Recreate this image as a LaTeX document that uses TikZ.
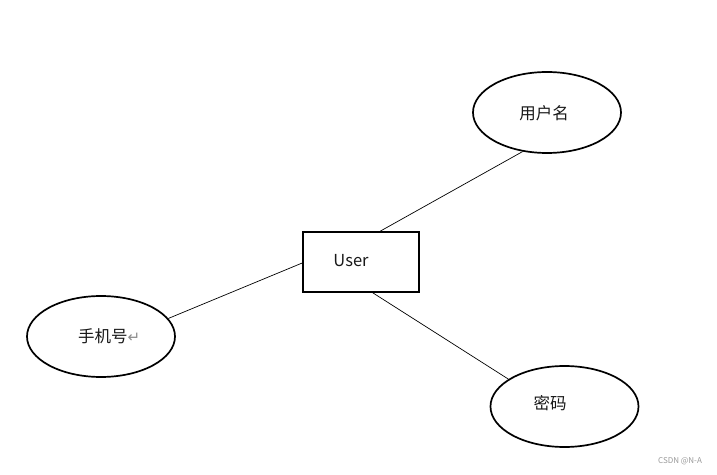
\documentclass[tikz,border=0pt]{standalone}
\usepackage{fontspec}
\setmainfont{Noto Sans CJK SC}
\newfontfamily\symfont{DejaVu Sans}
\usetikzlibrary{shapes.geometric}
\begin{document}
\begin{tikzpicture}[x=1pt,y=1pt,
  entity/.style={draw, line width=1.7pt, minimum width=116pt, minimum height=60pt, inner sep=0pt},
  attr/.style={draw, ellipse, line width=1.7pt, minimum width=148pt, minimum height=81pt, inner sep=0pt},
  lbl/.style={font=\fontsize{16.5}{18}\selectfont, inner sep=0pt, text=black!90},
  link/.style={line width=0.7pt}]
\useasboundingbox (0,0) rectangle (717,474);
\fill[white] (0,0) rectangle (717,474);

\node[entity] (user) at (361,212) {};
\node[lbl] (usertxt) at (351,213) {User};

\node[attr] (name) at (547,361.5) {};
\node[lbl] (nametxt) at (544,361) {用户名};

\node[attr] (phone) at (101,137.5) {};
\node[lbl, anchor=west] (phonetxt) at (78,138) {手机号{\symfont\fontsize{15}{16}\selectfont\color{black!45}↵}};

\node[attr] (pwd) at (564.5,67.5) {};
\node[lbl] (pwdtxt) at (550,71) {密码};

\draw[link] (user.58.5) -- (name.238);
\draw[link] (user.181) -- (phone.15);
\draw[link] (user.291) -- (pwd.154);

\node[font=\fontsize{8}{9}\selectfont, text=black!40, inner sep=0pt] (wm) at (680,13) {CSDN @N-A};
\end{tikzpicture}
\end{document}
